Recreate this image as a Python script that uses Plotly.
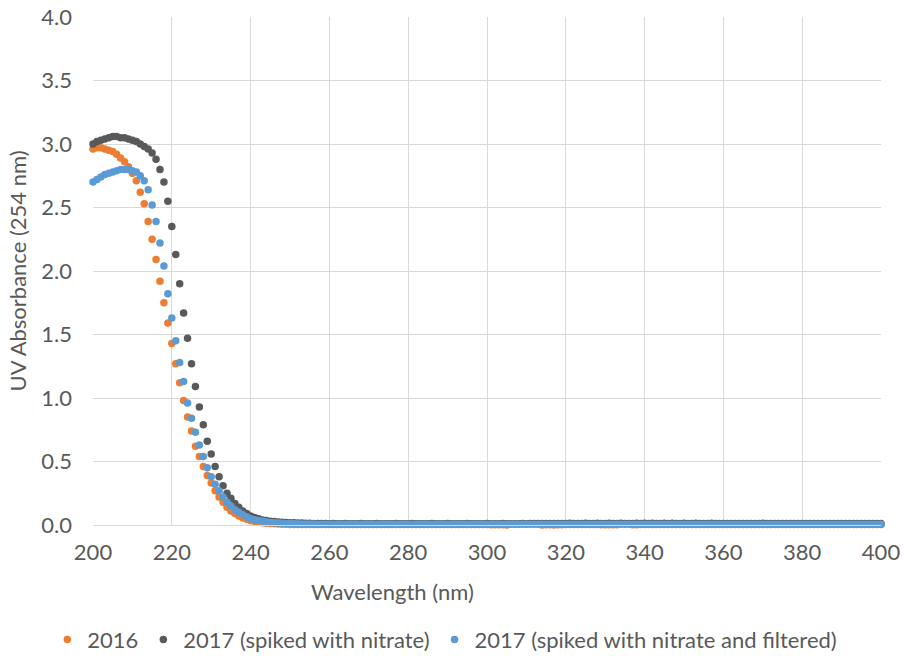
import plotly.graph_objects as go

wavelength = list(range(200, 401))

abs_2016 = [
    2.96, 2.97, 2.97, 2.96, 2.95, 2.94, 2.92, 2.89, 2.86, 2.82,
    2.77, 2.71, 2.62, 2.53, 2.39, 2.25, 2.09, 1.92, 1.75, 1.59,
    1.43, 1.27, 1.12, 0.98, 0.85, 0.74, 0.62, 0.54, 0.46, 0.39,
    0.33, 0.27, 0.22, 0.18, 0.14, 0.11, 0.09, 0.07, 0.055, 0.045,
    0.035, 0.028, 0.022, 0.018, 0.014, 0.011, 0.009, 0.007, 0.006, 0.005,
    0.004, 0.004, 0.004, 0.003, 0.003, 0.003, 0.003, 0.003, 0.003, 0.003,
    0.003, 0.003, 0.003, 0.003, 0.003, 0.003, 0.003, 0.003, 0.003, 0.003,
    0.003, 0.003, 0.003, 0.003, 0.003, 0.003, 0.003, 0.003, 0.003, 0.003,
    0.003, 0.003, 0.003, 0.003, 0.003, 0.003, 0.003, 0.003, 0.003, 0.003,
    0.003, 0.003, 0.003, 0.003, 0.003, 0.003, 0.003, 0.003, 0.003, 0.003,
    0.003, 0.002, 0.002, 0.002, 0.002, 0.000, -0.001, -0.002, -0.002, -0.002,
    -0.002, -0.002, -0.001, -0.001, 0.000, 0.001, 0.001, 0.000, 0.002, 0.002,
    0.003, 0.003, 0.003, 0.003, 0.003, 0.003, 0.003, 0.003, 0.003, 0.002,
    0.002, 0.002, 0.002, 0.002, -0.001, -0.002, -0.001, 0.002, 0.002, 0.003,
    0.003, 0.003, 0.003, 0.003, 0.003, 0.003, 0.003, 0.003, 0.003, 0.003,
    0.003, 0.003, 0.003, 0.003, 0.003, 0.003, 0.003, 0.003, 0.003, 0.003,
    0.003, 0.003, 0.003, 0.003, 0.003, 0.003, 0.003, 0.003, 0.003, 0.003,
    0.003, 0.003, 0.003, 0.003, 0.003, 0.003, 0.003, 0.003, 0.003, 0.003,
    0.003, 0.003, 0.003, 0.003, 0.003, 0.003, 0.003, 0.003, 0.003, 0.003,
    0.003, 0.003, 0.003, 0.003, 0.003, 0.003, 0.003, 0.003, 0.003, 0.003,
    0.003,
]

abs_2017_spiked = [
    3.00, 3.02, 3.03, 3.04, 3.05, 3.06, 3.06, 3.05, 3.05, 3.04,
    3.03, 3.02, 3.00, 2.98, 2.96, 2.93, 2.88, 2.80, 2.70, 2.55,
    2.35, 2.13, 1.90, 1.67, 1.47, 1.27, 1.09, 0.93, 0.79, 0.66,
    0.56, 0.46, 0.38, 0.31, 0.25, 0.21, 0.17, 0.14, 0.11, 0.09,
    0.07, 0.06, 0.05, 0.04, 0.035, 0.03, 0.027, 0.024, 0.022, 0.02,
    0.018, 0.017, 0.016, 0.015, 0.014, 0.013, 0.012, 0.012, 0.012, 0.011,
    0.010, 0.011, 0.010, 0.010, 0.011, 0.010, 0.010, 0.010, 0.011, 0.010,
    0.010, 0.010, 0.011, 0.010, 0.010, 0.010, 0.010, 0.011, 0.010, 0.010,
    0.010, 0.011, 0.010, 0.010, 0.010, 0.010, 0.011, 0.010, 0.010, 0.010,
    0.011, 0.010, 0.010, 0.010, 0.010, 0.011, 0.010, 0.010, 0.010, 0.010,
    0.011, 0.010, 0.010, 0.010, 0.011, 0.010, 0.010, 0.010, 0.010, 0.011,
    0.010, 0.011, 0.012, 0.011, 0.012, 0.012, 0.011, 0.012, 0.012, 0.012,
    0.012, 0.013, 0.012, 0.012, 0.012, 0.013, 0.012, 0.012, 0.013, 0.012,
    0.012, 0.013, 0.012, 0.012, 0.013, 0.012, 0.012, 0.012, 0.013, 0.012,
    0.013, 0.012, 0.013, 0.012, 0.012, 0.013, 0.012, 0.013, 0.012, 0.012,
    0.013, 0.012, 0.012, 0.013, 0.012, 0.012, 0.012, 0.013, 0.012, 0.011,
    0.011, 0.012, 0.011, 0.011, 0.012, 0.011, 0.011, 0.012, 0.011, 0.012,
    0.013, 0.012, 0.011, 0.012, 0.011, 0.011, 0.012, 0.011, 0.011, 0.011,
    0.012, 0.011, 0.011, 0.012, 0.011, 0.012, 0.011, 0.011, 0.011, 0.012,
    0.011, 0.011, 0.012, 0.011, 0.011, 0.011, 0.012, 0.011, 0.011, 0.011,
    0.011,
]

abs_2017_filtered = [
    2.70, 2.72, 2.74, 2.76, 2.77, 2.78, 2.79, 2.80, 2.80, 2.80,
    2.79, 2.78, 2.75, 2.71, 2.64, 2.52, 2.39, 2.22, 2.04, 1.82,
    1.63, 1.45, 1.28, 1.13, 0.96, 0.84, 0.73, 0.63, 0.54, 0.45,
    0.38, 0.32, 0.27, 0.22, 0.18, 0.15, 0.12, 0.10, 0.08, 0.065,
    0.05, 0.042, 0.035, 0.03, 0.025, 0.02, 0.018, 0.016, 0.014, 0.012,
    0.011, 0.010, 0.009, 0.008, 0.008, 0.007, 0.007, 0.006, 0.006, 0.006,
    0.005, 0.006, 0.005, 0.005, 0.006, 0.005, 0.005, 0.005, 0.006, 0.005,
    0.005, 0.005, 0.006, 0.005, 0.005, 0.005, 0.005, 0.006, 0.005, 0.005,
    0.005, 0.006, 0.005, 0.005, 0.005, 0.005, 0.006, 0.005, 0.005, 0.005,
    0.006, 0.005, 0.005, 0.005, 0.005, 0.006, 0.005, 0.005, 0.005, 0.005,
    0.006, 0.005, 0.005, 0.005, 0.006, 0.005, 0.005, 0.005, 0.005, 0.006,
    0.005, 0.005, 0.005, 0.006, 0.005, 0.005, 0.005, 0.006, 0.005, 0.005,
    0.005, 0.006, 0.005, 0.005, 0.005, 0.006, 0.005, 0.005, 0.005, 0.005,
    0.006, 0.005, 0.005, 0.005, 0.005, 0.006, 0.005, 0.005, 0.005, 0.005,
    0.006, 0.005, 0.005, 0.005, 0.005, 0.006, 0.005, 0.005, 0.005, 0.005,
    0.006, 0.005, 0.005, 0.005, 0.005, 0.006, 0.005, 0.005, 0.005, 0.005,
    0.005, 0.006, 0.005, 0.005, 0.005, 0.005, 0.006, 0.005, 0.005, 0.005,
    0.005, 0.006, 0.005, 0.005, 0.005, 0.005, 0.006, 0.005, 0.005, 0.005,
    0.005, 0.006, 0.005, 0.005, 0.005, 0.005, 0.006, 0.005, 0.005, 0.005,
    0.005, 0.006, 0.005, 0.005, 0.005, 0.005, 0.006, 0.005, 0.005, 0.005,
    0.005,
]

series_names = ["2016", "2017 (spiked with nitrate)", "2017 (spiked with nitrate and filtered)"]
series_values = [abs_2016, abs_2017_spiked, abs_2017_filtered]
series_colors = ["#ED7D31", "#595959", "#5B9BD5"]

x_ticks = [200, 220, 240, 260, 280, 300, 320, 340, 360, 380, 400]
y_ticks = [0.0, 0.5, 1.0, 1.5, 2.0, 2.5, 3.0, 3.5, 4.0]
x_title = "Wavelength (nm)"
y_title = "UV Absorbance (254 nm)"

FONT = "Lato, 'Open Sans', sans-serif"
TXT = "#595959"
FS = 22

fig = go.Figure()
for name, vals, col in zip(series_names, series_values, series_colors):
    fig.add_trace(go.Scatter(
        x=wavelength, y=vals, mode="markers", name=name,
        marker=dict(color=col, size=7.5, line=dict(width=0)),
        cliponaxis=False,
    ))

fig.update_layout(
    width=904, height=656,
    margin=dict(l=93, r=23, t=17, b=131, autoexpand=False),
    paper_bgcolor="white", plot_bgcolor="white",
    font=dict(family=FONT, size=FS, color=TXT),
    showlegend=True,
    legend=dict(
        orientation="h",
        x=-0.058, xanchor="left", y=-0.226, yanchor="middle",
        font=dict(family=FONT, size=FS, color=TXT),
        itemsizing="trace", itemwidth=30,
        tracegroupgap=0,
    ),
    annotations=[dict(
        text=x_title, xref="paper", yref="paper",
        x=0.3795, y=-0.13, xanchor="center", yanchor="middle",
        showarrow=False, font=dict(family=FONT, size=FS, color=TXT),
    )],
)

fig.update_xaxes(
    range=[200, 400], tickvals=x_ticks, ticktext=[str(v) for v in x_ticks],
    showgrid=True, gridcolor="#D9D9D9", gridwidth=1,
    showline=True, linecolor="#D9D9D9", linewidth=1,
    zeroline=False, ticks="", ticklabelstandoff=8, automargin=False,
    tickfont=dict(family=FONT, size=FS, color=TXT),
)
fig.update_yaxes(
    range=[0, 4], tickvals=y_ticks, ticktext=[f"{v:.1f}" for v in y_ticks],
    showgrid=True, gridcolor="#D9D9D9", gridwidth=1,
    showline=False, zeroline=False, ticks="", ticklabelstandoff=20, automargin=False,
    title=dict(text=y_title, font=dict(family=FONT, size=FS, color=TXT), standoff=8),
    tickfont=dict(family=FONT, size=FS, color=TXT),
)

fig.write_html(
    "out.html",
    config={"displayModeBar": False},
    post_script="document.body.style.margin='0';document.body.style.overflow='hidden';",
)
